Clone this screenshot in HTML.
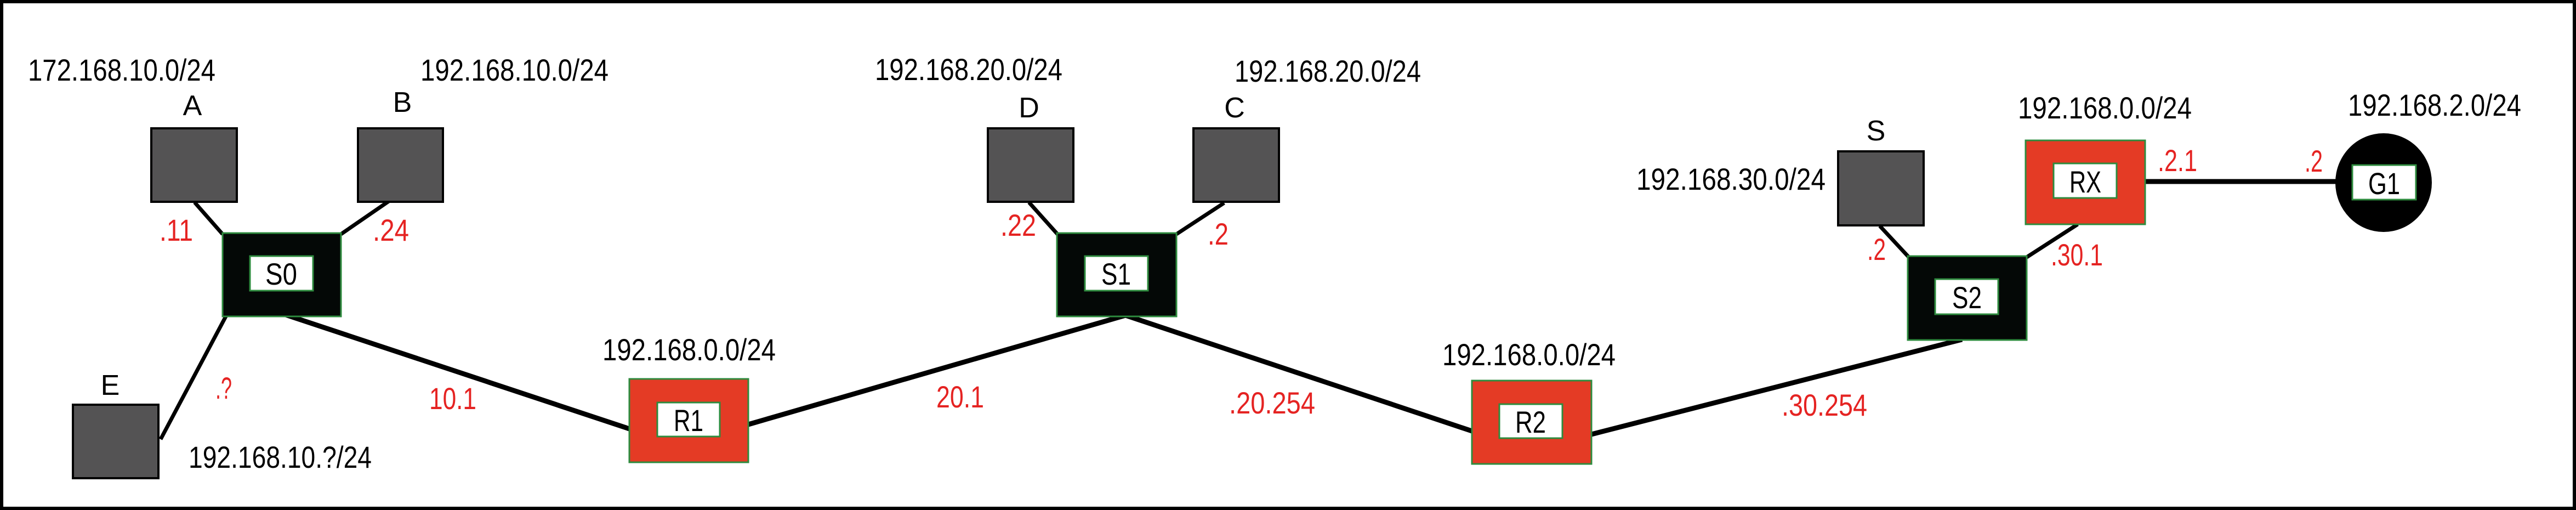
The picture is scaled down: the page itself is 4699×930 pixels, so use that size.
<!DOCTYPE html>
<html><head><meta charset="utf-8"><style>
html,body{margin:0;padding:0;background:#fff;}
svg{display:block;}
text{font-family:"Liberation Sans Narrow","Liberation Sans",sans-serif;font-size:56px;}
.net{fill:#000;}
.ip{fill:#e52322;}
.host{fill:#545354;stroke:#000;stroke-width:4;}
.sw{fill:#040806;stroke:#2e8b3e;stroke-width:3;}
.rt{fill:#e43b25;stroke:#2e8b3e;stroke-width:3;}
.inner{fill:#fff;stroke:#2e8b3e;stroke-width:3;}
.lk{stroke:#000;stroke-width:9;fill:none;}
.lt{stroke:#000;stroke-width:7;fill:none;}
.nm{font-size:52px;}
.in{font-size:56px;}
</style></head><body>
<svg width="4699" height="930" viewBox="0 0 4699 930">
<rect x="3" y="3" width="4693" height="924" fill="#fff" stroke="#000" stroke-width="6"/>
<g>
<line class="lt" x1="355" y1="369" x2="406" y2="427"/>
<line class="lt" x1="712" y1="365" x2="622" y2="427"/>
<line class="lt" x1="413" y1="575" x2="293" y2="801"/>
<line class="lk" x1="515" y1="572" x2="1148" y2="782"/>
<line class="lk" x1="1365" y1="774" x2="2053" y2="575"/>
<line class="lt" x1="1877" y1="369" x2="1929" y2="427"/>
<line class="lt" x1="2233" y1="370" x2="2146" y2="427"/>
<line class="lk" x1="2053" y1="575" x2="2685" y2="786"/>
<line class="lk" x1="2903" y1="792" x2="3579" y2="619"/>
<line class="lt" x1="3429" y1="412" x2="3482" y2="469"/>
<line class="lt" x1="3790" y1="409" x2="3697" y2="469"/>
<line class="lk" x1="3913" y1="331" x2="4262" y2="331"/>
</g>
<rect class="host" x="276" y="234" width="156" height="134"/>
<rect class="host" x="653" y="234" width="155" height="134"/>
<rect class="host" x="133" y="738" width="156" height="134"/>
<rect class="host" x="1802" y="234" width="156" height="134"/>
<rect class="host" x="2177" y="234" width="156" height="134"/>
<rect class="host" x="3353" y="276" width="156" height="135"/>
<g><rect class="sw" x="406" y="425" width="216" height="152"/><rect class="inner" x="456" y="467" width="115" height="63"/><text class="in" x="513" y="519" text-anchor="middle" textLength="58" lengthAdjust="spacingAndGlyphs">S0</text></g>
<g><rect class="sw" x="1928" y="425" width="218" height="152"/><rect class="inner" x="1979" y="467" width="115" height="63"/><text class="in" x="2036" y="519" text-anchor="middle" textLength="54" lengthAdjust="spacingAndGlyphs">S1</text></g>
<g><rect class="sw" x="3480" y="467" width="217" height="153"/><rect class="inner" x="3530" y="509" width="115" height="64"/><text class="in" x="3588" y="562" text-anchor="middle" textLength="54" lengthAdjust="spacingAndGlyphs">S2</text></g>
<g><rect class="rt" x="1148" y="691" width="217" height="152"/><rect class="inner" x="1199" y="734" width="114" height="62"/><text class="in" x="1256" y="786" text-anchor="middle" textLength="54" lengthAdjust="spacingAndGlyphs">R1</text></g>
<g><rect class="rt" x="2685" y="694" width="218" height="152"/><rect class="inner" x="2735" y="737" width="115" height="62"/><text class="in" x="2792" y="789" text-anchor="middle" textLength="56" lengthAdjust="spacingAndGlyphs">R2</text></g>
<g><rect class="rt" x="3695" y="256" width="218" height="153"/><rect class="inner" x="3746" y="298" width="115" height="63"/><text class="in" x="3804" y="351" text-anchor="middle" textLength="58" lengthAdjust="spacingAndGlyphs">RX</text></g>
<g><ellipse cx="4348" cy="333" rx="88" ry="90" fill="#000"/><rect class="inner" x="4291" y="301" width="116" height="63"/><text class="in" x="4349" y="354" text-anchor="middle" textLength="58" lengthAdjust="spacingAndGlyphs">G1</text></g>
<g>
<text class="net" x="51" y="147" textLength="342" lengthAdjust="spacingAndGlyphs">172.168.10.0/24</text>
<text class="net" x="767" y="147" textLength="343" lengthAdjust="spacingAndGlyphs">192.168.10.0/24</text>
<text class="net" x="344" y="853" textLength="334" lengthAdjust="spacingAndGlyphs">192.168.10.?/24</text>
<text class="net" x="1099" y="657" textLength="316" lengthAdjust="spacingAndGlyphs">192.168.0.0/24</text>
<text class="net" x="1596" y="146" textLength="342" lengthAdjust="spacingAndGlyphs">192.168.20.0/24</text>
<text class="net" x="2252" y="149" textLength="340" lengthAdjust="spacingAndGlyphs">192.168.20.0/24</text>
<text class="net" x="2631" y="666" textLength="316" lengthAdjust="spacingAndGlyphs">192.168.0.0/24</text>
<text class="net" x="2985" y="346" textLength="345" lengthAdjust="spacingAndGlyphs">192.168.30.0/24</text>
<text class="net" x="3681" y="216" textLength="317" lengthAdjust="spacingAndGlyphs">192.168.0.0/24</text>
<text class="net" x="4283" y="211" textLength="316" lengthAdjust="spacingAndGlyphs">192.168.2.0/24</text>
</g>
<g>
<text class="net nm" x="351" y="210" text-anchor="middle">A</text>
<text class="net nm" x="734" y="204" text-anchor="middle">B</text>
<text class="net nm" x="201" y="720" text-anchor="middle">E</text>
<text class="net nm" x="1877" y="214" text-anchor="middle">D</text>
<text class="net nm" x="2252" y="214" text-anchor="middle">C</text>
<text class="net nm" x="3422" y="256" text-anchor="middle">S</text>
</g>
<g>
<text class="ip" x="291" y="439" textLength="61" lengthAdjust="spacingAndGlyphs">.11</text>
<text class="ip" x="680" y="439" textLength="66" lengthAdjust="spacingAndGlyphs">.24</text>
<text class="ip" x="393" y="727" textLength="30" lengthAdjust="spacingAndGlyphs">.?</text>
<text class="ip" x="783" y="746" textLength="86" lengthAdjust="spacingAndGlyphs">10.1</text>
<text class="ip" x="1825" y="430" textLength="65" lengthAdjust="spacingAndGlyphs">.22</text>
<text class="ip" x="2203" y="446" textLength="38" lengthAdjust="spacingAndGlyphs">.2</text>
<text class="ip" x="1708" y="743" textLength="87" lengthAdjust="spacingAndGlyphs">20.1</text>
<text class="ip" x="2242" y="754" textLength="157" lengthAdjust="spacingAndGlyphs">.20.254</text>
<text class="ip" x="3250" y="758" textLength="156" lengthAdjust="spacingAndGlyphs">.30.254</text>
<text class="ip" x="3406" y="474" textLength="34" lengthAdjust="spacingAndGlyphs">.2</text>
<text class="ip" x="3741" y="484" textLength="95" lengthAdjust="spacingAndGlyphs">.30.1</text>
<text class="ip" x="3936" y="312" textLength="72" lengthAdjust="spacingAndGlyphs">.2.1</text>
<text class="ip" x="4204" y="313" textLength="33" lengthAdjust="spacingAndGlyphs">.2</text>
</g>
</svg>
</body></html>
